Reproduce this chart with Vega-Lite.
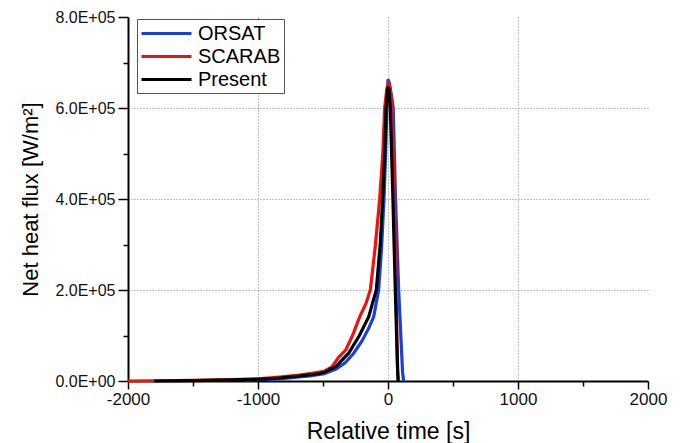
{
  "$schema": "https://vega.github.io/schema/vega-lite/v6.json",
  "width": 520,
  "height": 364,
  "autosize": {"type": "none"},
  "padding": {"left": 128, "top": 17, "right": 35, "bottom": 62},
  "background": "white",
  "config": {
    "font": "Liberation Sans",
    "view": {"stroke": null},
    "axis": {
      "domainColor": "#000000",
      "domainWidth": 2,
      "tickColor": "#000000",
      "tickWidth": 1.5,
      "labelColor": "#111111",
      "titleColor": "#000000",
      "titleFontWeight": "normal",
      "gridColor": "#888888",
      "gridDash": [1, 2],
      "gridWidth": 1
    }
  },
  "data": {
    "values": [
      {"series": "ORSAT", "t": -1100, "q": 2000},
      {"series": "ORSAT", "t": -1000, "q": 3000},
      {"series": "ORSAT", "t": -836, "q": 4400},
      {"series": "ORSAT", "t": -683, "q": 8800},
      {"series": "ORSAT", "t": -600, "q": 11000},
      {"series": "ORSAT", "t": -490, "q": 16000},
      {"series": "ORSAT", "t": -400, "q": 26000},
      {"series": "ORSAT", "t": -330, "q": 40000},
      {"series": "ORSAT", "t": -264, "q": 61000},
      {"series": "ORSAT", "t": -200, "q": 88000},
      {"series": "ORSAT", "t": -150, "q": 115000},
      {"series": "ORSAT", "t": -110, "q": 141000},
      {"series": "ORSAT", "t": -72, "q": 200000},
      {"series": "ORSAT", "t": -50, "q": 290000},
      {"series": "ORSAT", "t": -31, "q": 399000},
      {"series": "ORSAT", "t": -18, "q": 500000},
      {"series": "ORSAT", "t": -8, "q": 599000},
      {"series": "ORSAT", "t": 0, "q": 663000},
      {"series": "ORSAT", "t": 10, "q": 655000},
      {"series": "ORSAT", "t": 25, "q": 630000},
      {"series": "ORSAT", "t": 40, "q": 600000},
      {"series": "ORSAT", "t": 58, "q": 400000},
      {"series": "ORSAT", "t": 82, "q": 200000},
      {"series": "ORSAT", "t": 112, "q": 20000},
      {"series": "ORSAT", "t": 120, "q": 0},
      {"series": "SCARAB", "t": -2000, "q": 0},
      {"series": "SCARAB", "t": -1800, "q": 500},
      {"series": "SCARAB", "t": -1500, "q": 1500},
      {"series": "SCARAB", "t": -1200, "q": 3000},
      {"series": "SCARAB", "t": -1000, "q": 5000},
      {"series": "SCARAB", "t": -836, "q": 8800},
      {"series": "SCARAB", "t": -683, "q": 13000},
      {"series": "SCARAB", "t": -585, "q": 17000},
      {"series": "SCARAB", "t": -492, "q": 21000},
      {"series": "SCARAB", "t": -431, "q": 31000},
      {"series": "SCARAB", "t": -380, "q": 52000},
      {"series": "SCARAB", "t": -326, "q": 68000},
      {"series": "SCARAB", "t": -273, "q": 100000},
      {"series": "SCARAB", "t": -218, "q": 141000},
      {"series": "SCARAB", "t": -170, "q": 170000},
      {"series": "SCARAB", "t": -136, "q": 200000},
      {"series": "SCARAB", "t": -100, "q": 290000},
      {"series": "SCARAB", "t": -64, "q": 399000},
      {"series": "SCARAB", "t": -40, "q": 500000},
      {"series": "SCARAB", "t": -26, "q": 599000},
      {"series": "SCARAB", "t": -10, "q": 640000},
      {"series": "SCARAB", "t": 5, "q": 658000},
      {"series": "SCARAB", "t": 18, "q": 640000},
      {"series": "SCARAB", "t": 31, "q": 599000},
      {"series": "SCARAB", "t": 49, "q": 399000},
      {"series": "SCARAB", "t": 62, "q": 200000},
      {"series": "SCARAB", "t": 74, "q": 20000},
      {"series": "SCARAB", "t": 82, "q": 0},
      {"series": "Present", "t": -1800, "q": 0},
      {"series": "Present", "t": -1500, "q": 1000},
      {"series": "Present", "t": -1200, "q": 2500},
      {"series": "Present", "t": -1000, "q": 3700},
      {"series": "Present", "t": -836, "q": 6600},
      {"series": "Present", "t": -683, "q": 11000},
      {"series": "Present", "t": -533, "q": 16000},
      {"series": "Present", "t": -492, "q": 19000},
      {"series": "Present", "t": -400, "q": 32000},
      {"series": "Present", "t": -303, "q": 61000},
      {"series": "Present", "t": -220, "q": 100000},
      {"series": "Present", "t": -149, "q": 141000},
      {"series": "Present", "t": -90, "q": 200000},
      {"series": "Present", "t": -60, "q": 300000},
      {"series": "Present", "t": -41, "q": 399000},
      {"series": "Present", "t": -25, "q": 500000},
      {"series": "Present", "t": -15, "q": 599000},
      {"series": "Present", "t": 0, "q": 647000},
      {"series": "Present", "t": 8, "q": 640000},
      {"series": "Present", "t": 18, "q": 599000},
      {"series": "Present", "t": 38, "q": 399000},
      {"series": "Present", "t": 56, "q": 200000},
      {"series": "Present", "t": 70, "q": 60000},
      {"series": "Present", "t": 77, "q": 0}
    ]
  },
  "encoding": {
    "x": {
      "field": "t",
      "type": "quantitative",
      "scale": {"domain": [-2000, 2000], "nice": false, "zero": false},
      "axis": {
        "title": "Relative time [s]",
        "titleFontSize": 23,
        "titleY": 57,
        "titleBaseline": "alphabetic",
        "values": [-2000, -1500, -1000, -500, 0, 500, 1000, 1500, 2000],
        "labelExpr": "datum.value % 1000 == 0 ? '' + datum.value : ''",
        "labelFontSize": 17,
        "labelPadding": 2,
        "labelFlush": false,
        "labelOverlap": false,
        "tickSize": {"condition": {"test": "datum.value % 1000 == 0", "value": 8}, "value": 5},
        "grid": true,
        "gridOpacity": {"condition": {"test": "datum.value == -1000 || datum.value == 0 || datum.value == 1000", "value": 1}, "value": 0}
      }
    },
    "y": {
      "field": "q",
      "type": "quantitative",
      "scale": {"domain": [0, 800000], "nice": false},
      "axis": {
        "title": "Net heat flux [W/m²]",
        "titleFontSize": 22,
        "titleX": -91,
        "titleBaseline": "alphabetic",
        "values": [0, 100000, 200000, 300000, 400000, 500000, 600000, 700000, 800000],
        "labelExpr": "datum.value % 200000 == 0 ? (datum.value == 0 ? '0.0E+00' : format(datum.value / 100000, '.1f') + 'E+05') : ''",
        "labelFontSize": 16,
        "labelPadding": 3,
        "labelFlush": false,
        "labelOverlap": false,
        "tickSize": {"condition": {"test": "datum.value % 200000 == 0", "value": 10}, "value": 5},
        "grid": true,
        "gridOpacity": {"condition": {"test": "datum.value == 200000 || datum.value == 400000 || datum.value == 600000", "value": 1}, "value": 0}
      }
    },
    "color": {
      "field": "series",
      "type": "nominal",
      "scale": {"domain": ["ORSAT", "SCARAB", "Present"], "range": ["#1a3fe0", "#f01010", "#000000"]},
      "legend": {
        "title": null,
        "orient": "none",
        "legendX": 9,
        "legendY": 2,
        "symbolType": "M-1,0L4,0",
        "symbolSize": 400,
        "symbolStrokeWidth": 3,
        "labelFontSize": 20,
        "labelFont": "Liberation Sans",
        "labelColor": "#000000",
        "labelOffset": 35,
        "rowPadding": 1,
        "padding": 3,
        "strokeColor": "#555555",
        "fillColor": "#ffffff",
        "cornerRadius": 0
      }
    }
  },
  "layer": [
    {"transform": [{"filter": "datum.series == 'ORSAT'"}], "mark": {"type": "line", "strokeWidth": 3.2}},
    {"transform": [{"filter": "datum.series == 'SCARAB'"}], "mark": {"type": "line", "strokeWidth": 3.2}},
    {"transform": [{"filter": "datum.series == 'Present'"}], "mark": {"type": "line", "strokeWidth": 3.2}}
  ]
}
